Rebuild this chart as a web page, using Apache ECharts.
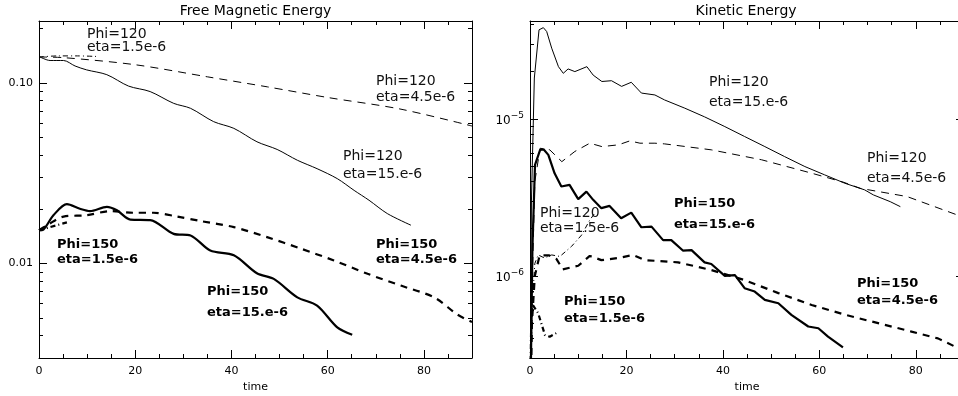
<!DOCTYPE html>
<html>
<head>
<meta charset="utf-8">
<script src="https://cdn.jsdelivr.net/npm/echarts@6/dist/echarts.min.js"></script>
<style>
  html, body { margin: 0; padding: 0; background: #fff; }
  #chart { width: 958px; height: 396px; }
</style>
</head>
<body>
<div id="chart"></div>
<script>
// Free magnetic energy (left panel)
const fme120_15_t = [0, 2.3, 5.1, 7.5, 9.9, 14.1, 18.6, 23.1, 28, 31.5, 36.3, 40.5, 45.3, 49.5, 53.7, 57.8, 62, 65.5, 68.6, 72.4, 77.3]
const fme120_15_v = [0.140, 0.133, 0.133, 0.124, 0.118, 0.111, 0.096, 0.0895, 0.077, 0.0723, 0.061, 0.056, 0.0472, 0.0428, 0.0373, 0.0335, 0.0295, 0.0254, 0.0224, 0.0189, 0.0163]
const fme120_45_t = [0, 5, 20, 35, 47.5, 60, 75, 90]
const fme120_45_v = [0.139, 0.138, 0.126, 0.108, 0.095, 0.083, 0.0717, 0.0577]
const fme120_1p5_t = [0, 4, 8, 12]
const fme120_1p5_v = [0.139, 0.141, 0.141, 0.140]
const fme150_15_t = [0, 0.9, 3, 5.8, 8.5, 10.6, 14.1, 16.2, 19, 23.1, 28, 31.5, 35.6, 40.5, 45.3, 48.8, 53.7, 57.8, 62, 65.1]
const fme150_15_v = [0.01525, 0.0154, 0.0185, 0.0213, 0.0201, 0.0195, 0.0206, 0.0197, 0.0175, 0.0174, 0.0146, 0.0143, 0.0118, 0.0111, 0.00883, 0.00822, 0.0065, 0.00585, 0.00443, 0.00403]
const fme150_45_t = [0, 2, 5.1, 9.9, 14.8, 19.6, 23.8, 28.7, 33.5, 40.5, 47.4, 54.4, 61.3, 68.3, 75.2, 82.1, 87, 90]
const fme150_45_v = [0.0153, 0.0165, 0.0182, 0.0185, 0.0195, 0.0191, 0.0191, 0.0182, 0.0172, 0.0159, 0.014, 0.0121, 0.0104, 0.00877, 0.00755, 0.0065, 0.00521, 0.00475]
const fme150_1p5_t = [0, 2.3, 5.8]
const fme150_1p5_v = [0.0153, 0.0159, 0.0169]

// Kinetic energy (right panel)
const ke120_15_t = [0, 0.3, 0.9, 1.87, 2.77, 3.46, 4.5, 5.9, 6.9, 7.9, 9.3, 11.8, 13.1, 14.9, 16.9, 19.0, 21, 23.1, 25.9, 27.9, 32.1, 36.2, 40.4, 44.5, 48.7, 52.8, 57, 61.1, 65.3, 69.4, 71.2, 74.7, 76.8]
const ke120_15_v = [1e-7, 3e-6, 1.82e-5, 3.69e-5, 3.81e-5, 3.6e-5, 2.82e-5, 2.15e-5, 1.95e-5, 2.08e-5, 2.0e-5, 2.15e-5, 1.9e-5, 1.73e-5, 1.75e-5, 1.61e-5, 1.71e-5, 1.46e-5, 1.42e-5, 1.32e-5, 1.17e-5, 1.03e-5, 8.93e-6, 7.72e-6, 6.66e-6, 5.75e-6, 4.97e-6, 4.4e-6, 3.89e-6, 3.53e-6, 3.28e-6, 2.97e-6, 2.76e-6]
const ke120_45_t = [0, 0.5, 1.0, 2.1, 4.1, 6.6, 9.3, 12.4, 14.9, 18.3, 20.7, 22.8, 25.9, 27.9, 37.6, 48, 58.4, 65, 68.5, 78.2, 88.5, 90]
const ke120_45_v = [1e-7, 1e-6, 4e-6, 6.5e-6, 6.35e-6, 5.34e-6, 6.2e-6, 7.0e-6, 6.66e-6, 6.83e-6, 7.24e-6, 7.0e-6, 7.0e-6, 6.93e-6, 6.35e-6, 5.49e-6, 4.51e-6, 3.95e-6, 3.61e-6, 3.2e-6, 2.45e-6, 2.38e-6]
const ke120_1p5_t = [0, 0.4, 1.0, 1.7, 3.0, 4.5, 6.2, 8.6, 10.7, 12.4, 13.4]
const ke120_1p5_v = [1e-7, 6e-7, 1.2e-6, 1.36e-6, 1.3e-6, 1.36e-6, 1.33e-6, 1.54e-6, 1.82e-6, 2.27e-6, 2.5e-6]
const ke150_15_t = [0, 0.5, 1.04, 2.1, 2.8, 3.8, 5.1, 6.5, 8.2, 10, 11.7, 13.1, 14.8, 16.5, 18.9, 21, 23.1, 25.2, 27.6, 29.3, 31.7, 33.5, 36.2, 37.6, 40.4, 42.5, 44.5, 46.6, 48.7, 51.5, 54.2, 57.7, 59.8, 61.8, 64.9]
const ke150_15_v = [1e-7, 1.5e-6, 5.1e-6, 6.35e-6, 6.4e-6, 5.9e-6, 4.5e-6, 3.71e-6, 3.8e-6, 3.08e-6, 3.44e-6, 3.05e-6, 2.7e-6, 2.79e-6, 2.33e-6, 2.53e-6, 2.04e-6, 2.06e-6, 1.69e-6, 1.69e-6, 1.45e-6, 1.46e-6, 1.22e-6, 1.19e-6, 1.0e-6, 1.01e-6, 8.35e-7, 7.95e-7, 7.03e-7, 6.7e-7, 5.65e-7, 4.76e-7, 4.64e-7, 4.1e-7, 3.51e-7]
const ke150_45_t = [0, 0.4, 1.0, 2.0, 4.0, 5.5, 6.8, 10, 12.4, 14.8, 18.3, 21.4, 23.8, 30.7, 37.6, 44.5, 51.5, 58.4, 65.4, 72.2, 79.1, 84.6, 88.1, 90]
const ke150_45_v = [1e-7, 5e-7, 1.0e-6, 1.35e-6, 1.35e-6, 1.28e-6, 1.1e-6, 1.16e-6, 1.34e-6, 1.26e-6, 1.3e-6, 1.36e-6, 1.26e-6, 1.22e-6, 1.09e-6, 9.4e-7, 7.77e-7, 6.53e-7, 5.65e-7, 5.0e-7, 4.42e-7, 4.0e-7, 3.55e-7, 3.4e-7]
const ke150_1p5_t = [0, 0.2, 0.35, 1.7, 3.1, 4.1, 5.9]
const ke150_1p5_v = [1e-7, 4e-7, 6.7e-7, 5.78e-7, 4.2e-7, 4.1e-7, 4.4e-7]

// axis ticks
const xMajor = [0, 20, 40, 60, 80]
const xMinor = [5, 10, 15, 25, 30, 35, 45, 50, 55, 65, 70, 75, 85]
const fmeMajor = [0.01, 0.1]
const fmeMinor = [0.003, 0.004, 0.005, 0.006, 0.007, 0.008, 0.009, 0.02, 0.03, 0.04, 0.05, 0.06, 0.07, 0.08, 0.09, 0.2]
const keMajor = [1e-6, 1e-5]
const keMinor = [3e-7, 4e-7, 5e-7, 6e-7, 7e-7, 8e-7, 9e-7, 2e-6, 3e-6, 4e-6, 5e-6, 6e-6, 7e-6, 8e-6, 9e-6, 2e-5, 3e-5, 4e-5]

// annotation text [text, x, y, bold]
const notes = [
  ['Phi=120', 87, 34, false], ['eta=1.5e-6', 87, 47, false],
  ['Phi=120', 376, 81, false], ['eta=4.5e-6', 376, 97, false],
  ['Phi=120', 343, 156, false], ['eta=15.e-6', 343, 174, false],
  ['Phi=150', 57, 245, true], ['eta=1.5e-6', 57, 260, true],
  ['Phi=150', 207, 292, true], ['eta=15.e-6', 207, 313, true],
  ['Phi=150', 376, 245, true], ['eta=4.5e-6', 376, 260, true],
  ['Phi=120', 709, 82, false], ['eta=15.e-6', 709, 102, false],
  ['Phi=120', 867, 158, false], ['eta=4.5e-6', 867, 178, false],
  ['Phi=150', 674, 204, true], ['eta=15.e-6', 674, 225, true],
  ['Phi=120', 540, 213, false], ['eta=1.5e-6', 540, 228, false],
  ['Phi=150', 857, 284, true], ['eta=4.5e-6', 857, 301, true],
  ['Phi=150', 564, 302, true], ['eta=1.5e-6', 564, 319, true],
]

const FONT = 'DejaVu Sans'
const INK = '#000'

const zip = (t, v) => t.map((x, i) => [x, v[i]])

function tick(len, values) {
  return { show: true, inside: true, length: len, lineStyle: { color: INK, width: 1 }, customValues: values }
}

function xAxes(grid) {
  const base = { type: 'value', gridIndex: grid, min: 0, max: 90, splitLine: { show: false } }
  const line = { show: true, onZero: false, lineStyle: { color: INK, width: 1 } }
  const noLine = { show: false, onZero: false }
  return [
    Object.assign({}, base, {
      position: 'bottom', name: 'time', nameLocation: 'middle', nameGap: 21,
      nameTextStyle: { color: INK, fontFamily: FONT, fontSize: 11 },
      axisLine: line,
      axisTick: tick(8, xMajor),
      axisLabel: { margin: 8, color: INK, fontFamily: FONT, fontSize: 11, customValues: xMajor },
    }),
    Object.assign({}, base, { position: 'bottom', axisLine: noLine, axisLabel: { show: false, customValues: xMinor }, axisTick: tick(4, xMinor) }),
    Object.assign({}, base, { position: 'top', axisLine: line, axisLabel: { show: false, customValues: xMajor }, axisTick: tick(8, xMajor) }),
    Object.assign({}, base, { position: 'top', axisLine: noLine, axisLabel: { show: false, customValues: xMinor }, axisTick: tick(4, xMinor) }),
  ]
}

function yAxes(grid, min, max, major, minor, fmt, rich) {
  const base = { type: 'log', logBase: 10, gridIndex: grid, min, max, splitLine: { show: false } }
  const line = { show: true, onZero: false, lineStyle: { color: INK, width: 1 } }
  const noLine = { show: false, onZero: false }
  return [
    Object.assign({}, base, {
      position: 'left', axisLine: line,
      axisTick: tick(8, major),
      axisLabel: { margin: 6, color: INK, fontFamily: FONT, fontSize: 11, customValues: major, formatter: fmt, rich },
    }),
    Object.assign({}, base, { position: 'left', axisLine: noLine, axisLabel: { show: false, customValues: minor }, axisTick: tick(4, minor) }),
    Object.assign({}, base, { position: 'right', axisLine: line, axisLabel: { show: false, customValues: major }, axisTick: tick(8, major) }),
    Object.assign({}, base, { position: 'right', axisLine: noLine, axisLabel: { show: false, customValues: minor }, axisTick: tick(4, minor) }),
  ]
}

const thin = 1
const thick = 2.2
const dash = [8, 6]
const dashThick = [7, 6]
const dashDot = [5, 3, 1, 3]

function curve(panel, t, v, width, type, smooth) {
  return {
    type: 'line',
    xAxisIndex: panel * 4,
    yAxisIndex: panel * 4,
    data: zip(t, v),
    symbol: 'none',
    smooth: smooth ? 0.3 : false,
    clip: true,
    silent: true,
    lineStyle: { color: INK, width, type },
  }
}

const chart = echarts.init(document.getElementById('chart'), null, { renderer: 'canvas' })

const option = {
  animation: false,
  backgroundColor: '#fff',
  grid: [
    { left: 39, top: 21, width: 433, height: 337, outerBoundsMode: 'none', containLabel: false },
    { left: 530, top: 21, width: 434, height: 337, outerBoundsMode: 'none', containLabel: false },
  ],
  xAxis: [...xAxes(0), ...xAxes(1)],
  yAxis: [
    ...yAxes(0, 0.003, 0.22, fmeMajor, fmeMinor, (v) => v.toFixed(2)),
    ...yAxes(1, 3.0e-7, 4.2e-5, keMajor, keMinor,
      (v) => '{b|10}{s|\u2212' + Math.abs(Math.round(Math.log10(v))) + '}',
      {
        b: { fontSize: 12, fontFamily: FONT, color: INK, verticalAlign: 'bottom', lineHeight: 16 },
        s: { fontSize: 9, fontFamily: FONT, color: INK, verticalAlign: 'top', lineHeight: 16 },
      }),
  ],
  graphic: [
    { type: 'text', x: 255.5, y: 11, style: { text: 'Free Magnetic Energy', font: '14px ' + FONT, fill: INK, align: 'center', verticalAlign: 'middle' } },
    { type: 'text', x: 746, y: 11, style: { text: 'Kinetic Energy', font: '14px ' + FONT, fill: INK, align: 'center', verticalAlign: 'middle' } },
    ...notes.map(([text, x, y, bold]) => ({
      type: 'text', x, y, silent: true,
      style: {
        text,
        font: (bold ? 'bold 13px ' : '14px ') + FONT,
        fill: bold ? INK : '#111',
        align: 'left',
        verticalAlign: 'middle',
      },
    })),
  ],
  series: [
    curve(0, fme120_45_t, fme120_45_v, thin, dash, true),
    curve(0, fme120_1p5_t, fme120_1p5_v, thin, dashDot, true),
    curve(0, fme120_15_t, fme120_15_v, thin, 'solid', true),
    curve(0, fme150_45_t, fme150_45_v, thick, dashThick, true),
    curve(0, fme150_1p5_t, fme150_1p5_v, thick, dashDot, true),
    curve(0, fme150_15_t, fme150_15_v, thick, 'solid', true),
    curve(1, ke120_45_t, ke120_45_v, thin, dash, false),
    curve(1, ke120_1p5_t, ke120_1p5_v, thin, dashDot, false),
    curve(1, ke120_15_t, ke120_15_v, thin, 'solid', false),
    curve(1, ke150_45_t, ke150_45_v, thick, dashThick, false),
    curve(1, ke150_1p5_t, ke150_1p5_v, thick, dashDot, false),
    curve(1, ke150_15_t, ke150_15_v, thick, 'solid', false),
  ],
}

chart.setOption(option)
</script>
</body>
</html>
